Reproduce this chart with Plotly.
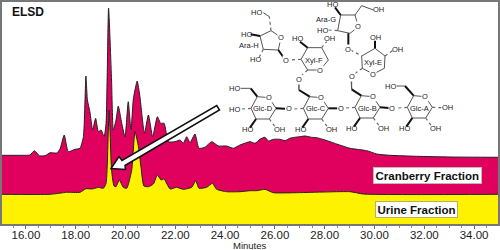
import plotly.graph_objects as go

# --- data (minutes, detector response) ---
cran_t = [15.0,15.76,16.16,16.34,16.54,16.77,16.97,17.24,17.37,17.54,17.70,17.97,18.17,18.31,18.41,18.47,18.57,18.68,18.80,18.91,19.02,19.14,19.22,19.32,19.44,19.51,19.62,19.71,19.85,19.98,20.11,20.22,20.31,20.38,20.47,20.58,20.76,20.92,21.09,21.28,21.41,21.55,21.72,21.99,22.19,22.32,22.46,22.59,22.79,22.95,23.19,23.46,23.73,24.06,24.33,24.60,25.0,25.2,25.4,25.6,25.74,25.94,26.2,26.41,26.6,26.8,27.0,27.21,27.47,27.68,28.01,28.48,29.02,29.69,30.09,30.62,31.69,33.03,35.0]
cran_v = [68.7,68.7,69,73.3,68.3,68.3,71.3,71,75,89,72.3,74.7,75.7,87.3,148,124,112.3,94,105.7,92.3,94,87.3,100.7,216,144,94,104,118,100.7,87,122.3,94,124,134,143,127.3,90.7,109,87.3,107.3,100.7,100.7,82.3,82.3,84,80.7,87.3,81.3,90,75.7,76.7,82.3,78,78,75.7,79,82.3,80.7,84.7,86.7,83,84.7,84.7,83.3,85.7,86.7,87.3,88,86.7,86.3,84,80,75.7,73.3,70,68.7,67.7,67,66.7]
urine_t = [15.0,16.97,17.64,18.17,18.41,18.64,18.78,18.91,19.11,19.22,19.34,19.44,19.54,19.62,19.75,19.91,20.05,20.25,20.38,20.52,20.62,20.74,20.92,21.12,21.28,21.43,21.55,21.79,22.05,22.32,22.66,22.82,22.95,23.26,23.49,23.66,24.06,24.6,25.0,25.27,25.6,25.94,26.87,29.02,29.55,35.0]
urine_v = [29.7,29.7,31.7,31.7,35.3,35,35.7,36.7,35.7,40.7,114,54,38,37.3,44,36.7,35.7,54,92.3,77.3,57.3,38,37.3,40,49,44,45,35,36.7,34.7,36.7,43.3,35.7,36.7,40.7,34.7,32.3,32.3,33.3,33.3,34.7,31.3,31.3,32.3,30,29.7]

X_RANGE = [15.04, 34.96]
Y_RANGE = [0, 222]
L, R, T, B = 2, 2, 2, 26
W, H = 500, 250
PW, PH = W - L - R, H - T - B

def px(x, y):
    return (x - L) / PW, (H - B - y) / PH

def z4(p):
    return 200 + p[0] / 3, 70 + p[1] / 3

def z3(p):
    return 200 + p[0] / 3, p[1] / 3

shapes, annos = [], []

def bond(a, b, kind="n"):
    xa, ya = px(*a)
    xb, yb = px(*b)
    style = {"n": dict(color="#555555", width=1),
             "b": dict(color="#111111", width=2),
             "h": dict(color="#666666", width=1.2, dash="dot")}[kind]
    shapes.append(dict(type="line", xref="paper", yref="paper", x0=xa, y0=ya, x1=xb, y1=yb, line=style))

def label(p, s, size=7.5, bg=None):
    x, y = px(*p)
    annos.append(dict(xref="paper", yref="paper", x=x, y=y, text=s, showarrow=False,
                      xanchor="center", yanchor="middle", borderpad=0,
                      font=dict(family="Liberation Sans", size=size, color="#222222"),
                      bgcolor=bg))

def z4b(a, b, k="n"):
    bond(z4(a), z4(b), k)

def z3b(a, b, k="n"):
    bond(z3(a), z3(b), k)

# Glc rings
RING = [(19,-35),(-16,-38),(-35,-3),(-20,29),(20,29),(40,-3)]
glc = [("Glc-D",188,118),("Glc-C",345,118),("Glc-B",500,115),("Glc-A",657,115)]
for name, cx, cy in glc:
    v = [(cx + a, cy + b) for a, b in RING]
    for i in range(6):
        z4b(v[i], v[(i + 1) % 6])
    label(z4((cx + 19, cy - 35)), "O", 7.5, "white")
    label(z4((cx + 2, cy - 1)), name, 7.5)
    z4b(v[3], (cx - 38, cy + 55), "b")
    z4b(v[4], (cx + 37, cy + 52), "h")
    label(z4((cx - 45, cy + 60)), "HO")
    label(z4((cx + 49, cy + 60)), "OH")
    z4b(v[2], (cx - 62, cy - 1), "h")

# glycosidic oxygens and side arms
for p in [(266,117),(422,115),(577,115)]:
    label(z4(p), "O", 7.5, "white")
z4b((228,115),(255,116),"b")
z4b((385,115),(412,115),"b")
z4b((540,112),(567,114),"b")
label(z4((103,118)), "HO")
z4b((172,80),(152,55),"b"); z4b((152,55),(122,55))
label(z4((103,55)), "HO")
z4b((641,77),(615,48),"b"); z4b((615,48),(590,48))
label(z4((570,50)), "HO")
z4b((329,80),(297,60),"b"); z4b((297,60),(297,38))
z4b((484,77),(455,58),"b"); z4b((455,58),(453,25))
z4b((697,112),(725,113),"h")
label(z4((742,113)), "OH")

# Xyl-F
xf = [(360,210),(323,210),(303,178),(323,143),(365,143),(385,180)]
for i in range(6):
    z3b(xf[i], xf[(i + 1) % 6])
label(z3((360,210)), "O", 7.5, "white")
label(z3((343,180)), "Xyl-F", 7.5)
z3b((323,143),(300,125),"b"); label(z3((292,117)), "HO")
z3b((365,143),(380,125),"h"); label(z3((388,117)), "OH")
z3b((303,178),(270,180),"h"); label(z3((258,180)), "O", 7.5, "white")
z3b((323,210),(300,230),"h"); label(z3((296,238)), "O", 7.5, "white")
z3b((296,246),(297,270))

# Ara-H
ah = [(213,92),(243,112),(235,150),(190,148),(180,108)]
for i in range(5):
    z3b(ah[i], ah[(i + 1) % 5])
label(z3((243,112)), "O", 7.5, "white")
z3b((213,92),(208,50),"h"); z3b((208,50),(190,38))
label(z3((170,38)), "HO")
z3b((180,108),(152,103),"b"); label(z3((138,103)), "HO")
z3b((190,148),(178,170),"h"); label(z3((165,178)), "HO")
z3b((235,150),(252,174),"b")
label(z3((147,135)), "Ara-H", 7.5)

# Ara-G
ag = [(465,45),(475,80),(450,100),(413,92),(422,45)]
for i in range(5):
    z3b(ag[i], ag[(i + 1) % 5])
label(z3((475,80)), "O", 7.5, "white")
z3b((465,45),(485,17)); z3b((485,17),(520,30))
label(z3((535,30)), "OH")
z3b((422,45),(405,22),"b"); label(z3((397,15)), "HO")
z3b((413,92),(385,90),"h"); label(z3((367,90)), "HO")
z3b((445,100),(445,138),"b")
label(z3((378,58)), "Ara-G", 7.5)

# Xyl-E
xe = [(487,205),(485,168),(525,145),(555,168),(553,205),(520,222)]
for i in range(6):
    z3b(xe[i], xe[(i + 1) % 6])
label(z3((520,222)), "O", 7.5, "white")
label(z3((520,187)), "Xyl-E", 7.5)
z3b((525,145),(525,122),"b"); label(z3((527,112)), "OH")
z3b((555,168),(578,152),"h"); label(z3((592,148)), "OH")
z3b((452,150),(485,168),"h"); label(z3((445,148)), "O", 7.5, "white")
z3b((487,205),(462,222),"h"); label(z3((455,228)), "O", 7.5, "white")
z3b((455,236),(455,268))

# Arrow pointing at the urine peak
arrow = [(111,168.5),(119,156.5),(122,160.5),(216.7,105.5),(219.5,110),(125,165.5),(125.5,169.5)]
path = "M " + " L ".join("{:.4f} {:.4f}".format(*px(*p)) for p in arrow) + " Z"
shapes.append(dict(type="path", xref="paper", yref="paper", path=path,
                   fillcolor="white", line=dict(color="#111111", width=1.5), layer="above"))

def boxed(p, s, bc):
    x, y = px(*p)
    annos.append(dict(xref="paper", yref="paper", x=x, y=y, text="<b>" + s + "</b>", showarrow=False,
                      xanchor="center", yanchor="middle", bgcolor="white", bordercolor=bc, borderwidth=1, borderpad=1.5,
                      font=dict(family="Liberation Sans", size=11.5, color="#111111")))

boxed((427,175), "Cranberry Fraction", "#bbbbbb")
boxed((416.5,209.5), "Urine Fraction", "#b8b060")

x, y = px(10, 12)
annos.append(dict(xref="paper", yref="paper", x=x, y=y, text="<b>ELSD</b>", showarrow=False,
                  xanchor="left", yanchor="middle",
                  font=dict(family="Liberation Sans", size=12, color="#111111")))

x, y = px(250, 245.5)
annos.append(dict(xref="paper", yref="paper", x=x, y=y, text="Minutes", showarrow=False,
                  xanchor="center", yanchor="middle",
                  font=dict(family="Liberation Sans", size=9.5, color="#222222")))

fig = go.Figure()
fig.add_trace(go.Scatter(x=cran_t, y=cran_v, mode="lines", fill="tozeroy", fillcolor="#E0005E",
                         line=dict(color="#222222", width=1, shape="spline", smoothing=0.5), showlegend=False))
fig.add_trace(go.Scatter(x=urine_t, y=urine_v, mode="lines", fill="tozeroy", fillcolor="#FFF200",
                         line=dict(color="#222222", width=1, shape="spline", smoothing=0.5), showlegend=False))

fig.update_layout(
    width=W, height=H, margin=dict(l=L, r=R, t=T, b=B, autoexpand=False),
    paper_bgcolor="white", plot_bgcolor="white", showlegend=False,
    shapes=shapes, annotations=annos,
    xaxis=dict(range=X_RANGE, tick0=16, dtick=2, tickformat=".2f", ticks="outside", ticklen=3, tickcolor="#666666",
               tickwidth=1, showgrid=False, zeroline=False, showline=True, linecolor="#777777", linewidth=2, mirror=True,
               minor=dict(dtick=0.5, tick0=16, ticks="outside", ticklen=2, tickcolor="#888888"),
               ticklabelstandoff=-4, automargin=False,
               tickfont=dict(family="Liberation Sans", size=11.5, color="#222222")),
    yaxis=dict(range=Y_RANGE, showticklabels=False, ticks="", showgrid=False, zeroline=False, automargin=False,
               showline=True, linecolor="#777777", linewidth=2, mirror=True),
)
fig.write_html("out.html", config={"displayModeBar": False},
               post_script="document.body.style.margin='0';window.dispatchEvent(new Event('resize'));")
